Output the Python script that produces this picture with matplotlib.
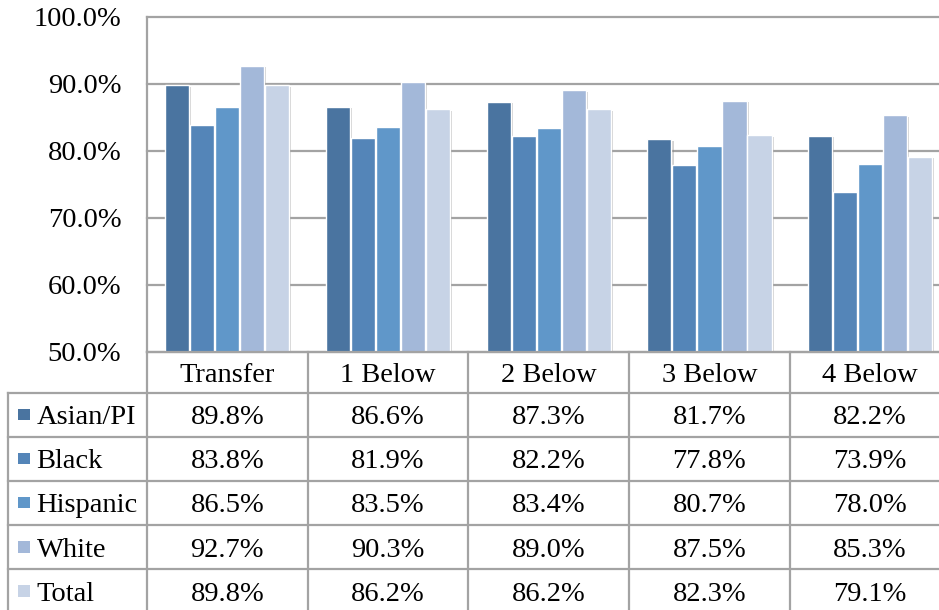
import numpy as np
import matplotlib
matplotlib.use('Agg')
import matplotlib.pyplot as plt
import matplotlib.patheffects as pe
from matplotlib.patches import Rectangle

categories = ['Transfer', '1 Below', '2 Below', '3 Below', '4 Below']
series_names = ['Asian/PI', 'Black', 'Hispanic', 'White', 'Total']
asian = [89.8, 86.6, 87.3, 81.7, 82.2]
black = [83.8, 81.9, 82.2, 77.8, 73.9]
hispanic = [86.5, 83.5, 83.4, 80.7, 78.0]
white = [92.7, 90.3, 89.0, 87.5, 85.3]
total = [89.8, 86.2, 86.2, 82.3, 79.1]
y_ticks = [50, 60, 70, 80, 90, 100]

series_values = [asian, black, hispanic, white, total]
colors = ['#4A74A0', '#5485B8', '#6097C9', '#A3B8D9', '#C7D3E6']
grid_col = '#A3A3A3'

plt.rcParams['font.family'] = ['Liberation Serif', 'DejaVu Serif']

W, H = 939, 610
fig = plt.figure(figsize=(W / 100, H / 100), dpi=100)

plot_left = 147.0
cat_w = 160.7
plot_top = 16.8
plot_bottom = 351.7

ax = fig.add_axes([plot_left / W, 1 - plot_bottom / H, 5 * cat_w / W, (plot_bottom - plot_top) / H])
ax.set_xlim(-0.5, 4.5)
ax.set_ylim(50, 100)

x = np.arange(len(categories))
pitch = 0.1556
bw = 0.150
shadow = [pe.SimplePatchShadow(offset=(1.5, -1.0), shadow_rgbFace='#808080', alpha=0.35), pe.Normal()]
for i, vals in enumerate(series_values):
    v = np.array(vals)
    ax.bar(x + (i - 2) * pitch, v - 50, bottom=50, width=bw, color=colors[i],
           edgecolor='white', linewidth=1.0, zorder=3, path_effects=shadow)

ax.set_yticks(y_ticks)
ax.set_yticklabels([f'{v:.1f}%' for v in y_ticks], fontsize=20.5)
ax.tick_params(axis='y', length=0, pad=18.5)
for lbl in ax.get_yticklabels():
    lbl.set_verticalalignment('center_baseline')
ax.set_xticks([])
ax.yaxis.grid(True, color=grid_col, linewidth=1.6)
ax.set_axisbelow(True)
for s in ['top', 'right', 'bottom']:
    ax.spines[s].set_visible(False)
ax.spines['left'].set_color(grid_col)
ax.spines['left'].set_linewidth(1.6)
for gl in ax.get_ygridlines():
    gl.set_clip_on(False)

# table overlay in pixel coordinates
tax = fig.add_axes([0, 0, 1, 1], zorder=5)
tax.set_xlim(0, W)
tax.set_ylim(H, 0)
tax.axis('off')

label_left = 7.5
header_bottom = 392.7
row_h = 44.1
edges = [plot_left + k * cat_w for k in range(len(categories) + 1)]
lw = 1.6
bottom_y = H + 20
dy = 3.0
fs = 20.5

tax.plot([plot_left, edges[-1]], [plot_bottom, plot_bottom], color=grid_col, lw=lw)
for j in range(len(series_names) + 1):
    yy = header_bottom + j * row_h
    tax.plot([label_left, edges[-1]], [yy, yy], color=grid_col, lw=lw)
tax.plot([label_left, label_left], [header_bottom, bottom_y], color=grid_col, lw=lw)
for e in edges:
    tax.plot([e, e], [plot_bottom, bottom_y], color=grid_col, lw=lw)

hc = (plot_bottom + header_bottom) / 2
for k, c in enumerate(categories):
    tax.text((edges[k] + edges[k + 1]) / 2, hc + dy, c, ha='center', va='center', fontsize=fs, color='black')

for j, (name, vals) in enumerate(zip(series_names, series_values)):
    yc = header_bottom + (j + 0.5) * row_h
    tax.add_patch(Rectangle((18, yc - 6), 11.5, 11.5, facecolor=colors[j], edgecolor='none'))
    tax.text(36.5, yc + dy, name, ha='left', va='center', fontsize=fs, color='black')
    for k, v in enumerate(vals):
        tax.text((edges[k] + edges[k + 1]) / 2, yc + dy, f'{v:.1f}%', ha='center', va='center', fontsize=fs, color='black')

fig.savefig('out.png', dpi=100)
